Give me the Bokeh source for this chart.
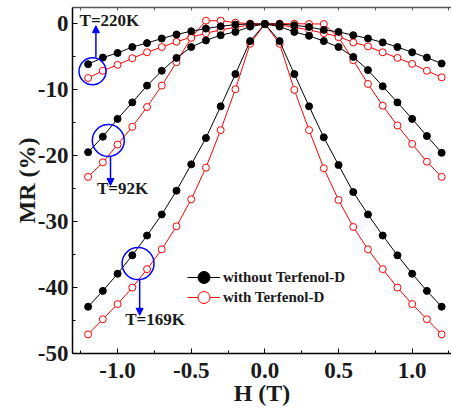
from bokeh.plotting import figure
from bokeh.models import (LinearAxis, FixedTicker, NumeralTickFormatter, Legend,
                          LegendItem, Label, Arrow, NormalHead, Range1d)
from bokeh.embed import file_html
from bokeh.resources import INLINE

# ---------------- data ----------------
H = [-1.2, -1.1, -1.0, -0.9, -0.8, -0.7, -0.6, -0.5, -0.4, -0.3, -0.2, -0.1, 0.0,
     0.1, 0.2, 0.3, 0.4, 0.5, 0.6, 0.7, 0.8, 0.9, 1.0, 1.1, 1.2]

mr_220K_without = [-6.1, -5.1, -4.4, -3.5, -2.9, -2.2, -1.6, -1.1, -0.7, -0.35, -0.1, 0.0, 0.0,
                   0.0, -0.2, -0.45, -0.9, -1.2, -1.7, -2.2, -2.8, -3.5, -4.3, -5.1, -6.0]
mr_220K_with = [-8.2, -7.1, -6.2, -5.2, -4.3, -3.5, -2.7, -2.0, -1.4, -0.9, -0.5, -0.15, 0.0,
                -0.15, -0.5, -0.9, -1.4, -1.9, -2.8, -3.4, -4.3, -5.15, -6.05, -7.1, -8.1]
mr_92K_without = [-19.45, -17.1, -14.4, -11.9, -9.35, -7.1, -5.15, -3.5, -2.5, -1.7, -1.2, -0.4, 0.0,
                  -0.4, -1.2, -1.8, -2.6, -3.5, -5.0, -7.0, -9.45, -11.9, -14.4, -17.0, -19.55]
mr_92K_with = [-23.2, -21.0, -18.3, -15.6, -12.6, -9.35, -5.8, -2.1, 0.5, 0.5, 0.2, 0.05, 0.0,
               0.05, 0.05, 0.0, 0.0, -2.0, -5.5, -9.1, -12.4, -15.4, -18.2, -20.9, -23.2]
mr_169K_without = [-42.9, -40.5, -37.9, -35.1, -32.1, -28.9, -25.3, -21.3, -17.3, -12.5, -7.6, -2.6, 0.0,
                   -2.6, -7.6, -12.5, -17.2, -21.4, -25.5, -28.9, -32.1, -35.1, -37.9, -40.5, -42.9]
mr_169K_with = [-47.1, -44.8, -42.5, -40.0, -37.2, -34.2, -30.7, -26.6, -21.8, -16.1, -9.9, -3.0, 0.0,
                -3.0, -10.0, -16.1, -21.9, -26.7, -30.8, -34.2, -37.2, -40.0, -42.5, -44.8, -47.1]

x_ticks = [-1.0, -0.5, 0.0, 0.5, 1.0]
x_minor = [-1.25, -0.75, -0.25, 0.25, 0.75, 1.25]
y_ticks = [-50, -40, -30, -20, -10, 0]
y_minor = [-45, -35, -25, -15, -5]

series_without = [mr_220K_without, mr_92K_without, mr_169K_without]
series_with = [mr_220K_with, mr_92K_with, mr_169K_with]
legend_labels = ["without Terfenol-D", "with Terfenol-D"]

# annotation marks (temperature callouts)
temp_labels = ["T=220K", "T=92K", "T=169K"]
circ_x = [-1.170, -1.063, -0.861]
circ_y = [-7.18, -17.68, -36.36]
circ_size = [27, 32, 32]
arrow_x = [-1.147, -1.048, -0.850]
arrow_y0 = [-5.06, -20.1, -38.8]
arrow_y1 = [-0.26, -24.5, -44.2]
label_x = [-1.258, -1.14, -0.948]
label_y = [0.5, -24.9, -44.9]

FONT = "Liberation Serif"
TXT = "#1a1a1a"

p = figure(width=451, height=409,
           x_range=Range1d(-1.306, 1.267), y_range=Range1d(-50, 2.5),
           output_backend="svg", toolbar_location=None,
           min_border_left=72, min_border_right=0, min_border_top=7, min_border_bottom=56)
p.outline_line_color = None
p.grid.visible = False
p.background_fill_color = "white"

xa = p.xaxis[0]
ya = p.yaxis[0]
xa.ticker = FixedTicker(ticks=x_ticks, minor_ticks=x_minor)
xa.formatter = NumeralTickFormatter(format="0.0")
ya.ticker = FixedTicker(ticks=y_ticks, minor_ticks=y_minor)
ya.formatter = NumeralTickFormatter(format="0")

for ax in (xa, ya):
    ax.major_tick_in = 5
    ax.major_tick_out = 0
    ax.minor_tick_in = 3
    ax.minor_tick_out = 0
    ax.axis_line_width = 1.5
    ax.axis_line_color = "black"
    ax.major_tick_line_width = 1
    ax.major_label_text_font = FONT
    ax.major_label_text_font_style = "bold"
    ax.major_label_text_font_size = "23px"
    ax.major_label_text_color = TXT
    ax.axis_label_text_font = FONT
    ax.axis_label_text_font_style = "bold"
    ax.axis_label_text_font_size = "24px"
    ax.axis_label_text_color = TXT

xa.axis_label = "H (T)"
xa.major_label_standoff = 9
xa.axis_label_standoff = -1
ya.axis_label = "MR (%)"
ya.major_label_standoff = 4
ya.axis_label_standoff = -5

top = LinearAxis(ticker=FixedTicker(ticks=x_ticks, minor_ticks=x_minor),
                 major_label_overrides={t: "" for t in x_ticks},
                 major_label_text_font_size="1px", major_label_standoff=0,
                 major_tick_in=3, major_tick_out=0, minor_tick_in=3, minor_tick_out=0,
                 axis_line_color="#555555", axis_line_width=1.5,
                 major_tick_line_color="#555555", minor_tick_line_color="#555555")
p.add_layout(top, "above")

# data series: red (with) first, black (without) on top
red_r = []
for ys in series_with:
    ln = p.line(H, ys, line_color="#ff0000", line_width=1)
    sc = p.scatter(H, ys, marker="circle", size=7, line_color="#ff0000", fill_color="white", line_width=1)
    red_r.append((ln, sc))
black_r = []
for ys in series_without:
    ln = p.line(H, ys, line_color="black", line_width=1)
    sc = p.scatter(H, ys, marker="circle", size=7, line_color="black", fill_color="black")
    black_r.append((ln, sc))

# callouts
p.scatter(circ_x, circ_y, marker="circle", size=circ_size, fill_color=None,
          line_color="#0000ff", line_width=1.5)
for xs, y0, y1 in zip(arrow_x, arrow_y0, arrow_y1):
    p.add_layout(Arrow(end=NormalHead(size=7, line_color="#0000ff", fill_color="#0000ff", line_width=1),
                       x_start=xs, y_start=y0, x_end=xs, y_end=y1,
                       line_color="#0000ff", line_width=1.5))
for t, lx, ly in zip(temp_labels, label_x, label_y):
    p.add_layout(Label(x=lx, y=ly, text=t, text_font=FONT, text_font_style="bold",
                       text_font_size="17px", text_color=TXT, text_baseline="middle"))

# legend (two single-item legends to control marker size and spacing)
for lab, rs, loc in ((legend_labels[0], black_r[2], (115, 61)),
                     (legend_labels[1], red_r[2], (115, 41))):
    lg = Legend(items=[LegendItem(label=lab, renderers=list(rs), index=0)], location=loc,
                glyph_width=33, glyph_height=30,
                label_standoff=3, padding=0, margin=0, border_line_color=None,
                background_fill_alpha=0, label_text_font=FONT, label_text_font_style="bold",
                label_text_font_size="15px", label_text_color=TXT)
    p.add_layout(lg, "center")

open("out.html", "w").write(file_html(p, INLINE))
